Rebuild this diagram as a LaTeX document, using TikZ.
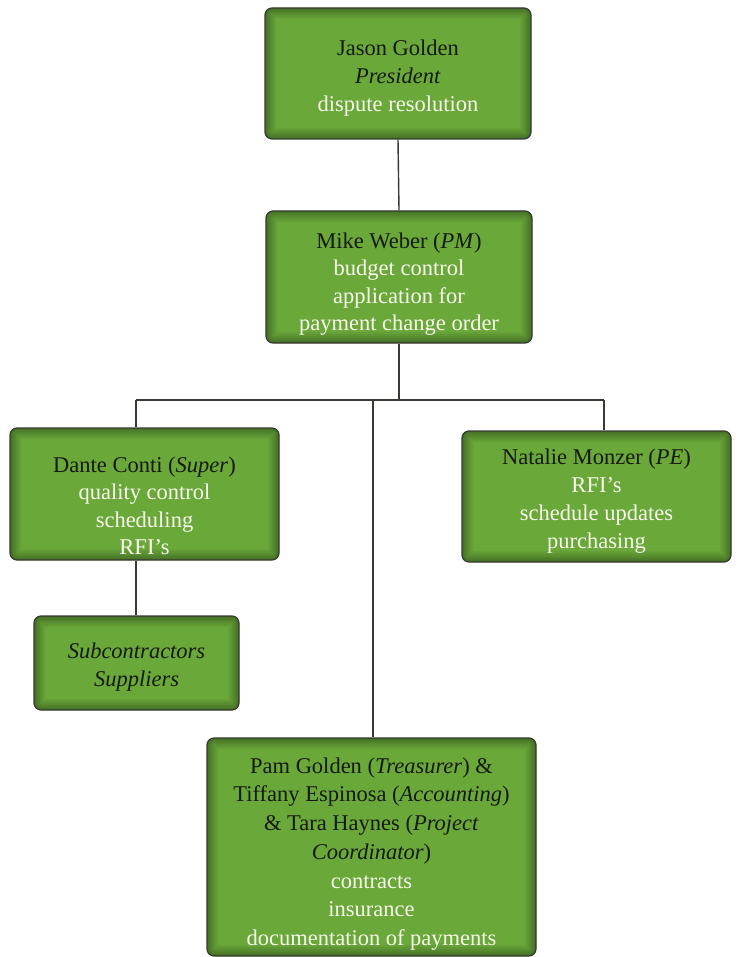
\documentclass[tikz,border=0pt]{standalone}
\usepackage{fontspec}
\setmainfont{Liberation Serif}
\definecolor{boxgreen}{RGB}{106,168,58}
\definecolor{edgegray}{RGB}{55,58,50}
\definecolor{duty}{RGB}{248,248,236}
\definecolor{namec}{RGB}{22,26,18}
\tikzset{
  orgbox/.style={draw=edgegray, line width=1.2pt, fill=boxgreen, rounded corners=7pt,
    inner sep=0pt,
    path picture={
      \foreach \w in {22,18,14,11,8,5,3}{
        \draw[black, opacity=0.05, line width=\w pt] (path picture bounding box.south west) rectangle (path picture bounding box.north east);
      }
    }},
  boxtext/.style={align=center, text=namec, inner sep=0pt,
    font=\fontsize{22.5}{27.5}\selectfont},
  link/.style={draw=edgegray, line width=1.4pt}
}
\newcommand{\dty}[1]{\textcolor{duty}{#1}}
\begin{document}
\begin{tikzpicture}[x=1pt,y=-1pt]
\useasboundingbox[fill=white] (0,0) rectangle (738,957);
\node[orgbox, minimum width=266pt, minimum height=131pt] (pres) at (398,73.5) {};
\node[orgbox, minimum width=266pt, minimum height=132pt] (pm) at (399,277) {};
\node[orgbox, minimum width=269pt, minimum height=132pt] (super) at (144.5,494) {};
\node[orgbox, minimum width=269pt, minimum height=131pt] (pe) at (596.5,496.5) {};
\node[orgbox, minimum width=205pt, minimum height=94pt] (subs) at (136.5,663) {};
\node[orgbox, minimum width=329pt, minimum height=218pt] (treas) at (371.5,847) {};
\node[boxtext, font=\fontsize{22.5}{28}\selectfont] (presT) at (398,78)
  {Jason Golden\\ \textit{President}\\ \dty{dispute resolution}};
\node[boxtext] (pmT) at (399,284)
  {Mike Weber (\textit{PM})\\ \dty{budget control}\\ \dty{application for}\\ \dty{payment change order}};
\node[boxtext] (superT) at (144.5,506)
  {Dante Conti (\textit{Super})\\ \dty{quality control}\\ \dty{scheduling}\\ \dty{RFI’s}};
\node[boxtext, font=\fontsize{22.5}{28}\selectfont] (peT) at (596.5,501)
  {Natalie Monzer (\textit{PE})\\ \dty{RFI’s}\\ \dty{schedule updates}\\ \dty{purchasing}};
\node[boxtext, font=\fontsize{22.5}{28}\selectfont] (subsT) at (136.5,667)
  {\textit{Subcontractors}\\ \textit{Suppliers}};
\node[boxtext, font=\fontsize{22.5}{28.7}\selectfont] (treasT) at (371.5,854)
  {Pam Golden (\textit{Treasurer}) \&\\ Tiffany Espinosa (\textit{Accounting})\\ \& Tara Haynes (\textit{Project}\\ \textit{Coordinator})\\ \dty{contracts}\\ \dty{insurance}\\ \dty{documentation of payments}};
\coordinate (busTop) at (399,400);
\coordinate (busL) at (136,400);
\coordinate (busR) at (604,400);
\coordinate (busM) at (373,400);
\draw[link] (pres.south) -- (pm.north);
\draw[link] (pm.south) -- (busTop);
\draw[link] (busL) -- (busR);
\draw[link] (busL) -- (busL |- super.north);
\draw[link] (busR) -- (busR |- pe.north);
\draw[link] (busM) -- (busM |- treas.north);
\draw[link] (busL |- super.south) -- (busL |- subs.north);
\end{tikzpicture}
\end{document}
